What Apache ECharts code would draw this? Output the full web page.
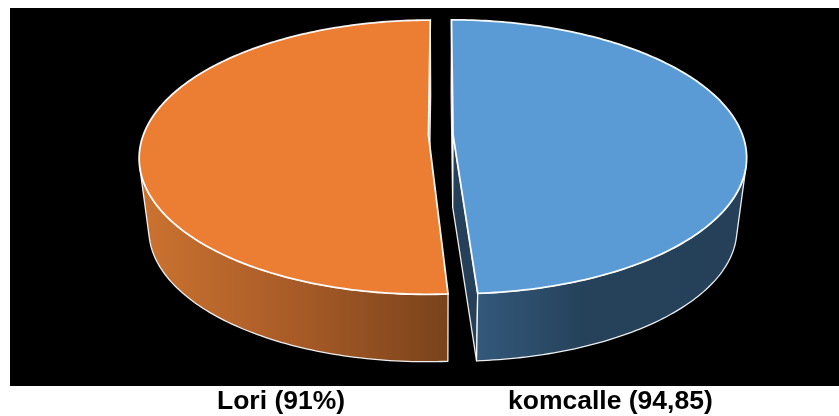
<!DOCTYPE html>
<html><head><meta charset="utf-8">
<style>html,body{margin:0;padding:0;background:#fff}#c{width:839px;height:416px}</style>
<script src="https://cdn.jsdelivr.net/npm/echarts@6/dist/echarts.min.js"></script>
</head><body><div id="c"></div>
<script>
// Data: the blue wedge is the first slice (48.96 %), orange the second.
const sliceNames = ['Lori', 'komcalle'];
const sliceValues = [91, 94.85];
const legendLabels = ['Lori (91%)', 'komcalle (94,85)'];
const topColors = ['#5B9BD5', '#EC7E33'];

const chart = echarts.init(document.getElementById('c'), null, {renderer: 'canvas'});
const total = sliceValues.reduce((a, b) => a + b, 0);

// camera model of the 3D pie
const cx = 441.5, cy = 135, A = 289.5, B = 133.5, k = 0.1606;
const explode = [0.04, 0.045], widthScale = [1, 0.985];
const vpX = 442, vpY = 2400, depthScale = 0.968;
const project = (u, v) => { const w = 1 - k * v; return [cx + A * u / w, cy + B * v / w]; };
const drop = p => [vpX + depthScale * (p[0] - vpX), vpY + depthScale * (p[1] - vpY)];
const area = pts => { let s = 0; pts.forEach((p, i) => { const q = pts[(i + 1) % pts.length]; s += p[0] * q[1] - q[0] * p[1]; }); return s / 2; };

const wallGrad = [
  new echarts.graphic.LinearGradient(478, 0, 740, 0, [
    {offset: 0, color: '#33587A'}, {offset: 0.4, color: '#26425B'}, {offset: 1, color: '#254058'}], true),
  new echarts.graphic.LinearGradient(145, 0, 447, 0, [
    {offset: 0, color: '#CA7230'}, {offset: 0.5, color: '#A85B27'}, {offset: 1, color: '#7A431B'}], true)
];
const faceFill = ['#254058', '#7A431B'];

function renderSlice(params) {
  const i = params.dataIndex;
  let start = 0;
  for (let j = 0; j < i; j++) start += sliceValues[j];
  const t0 = start / total * 2 * Math.PI, t1 = (start + sliceValues[i]) / total * 2 * Math.PI;
  const mid = (t0 + t1) / 2, e = explode[i], ws = widthScale[i];
  const u0 = e * Math.sin(mid), v0 = -e * Math.cos(mid);
  const N = 180, arc = [];
  for (let n = 0; n <= N; n++) {
    const t = t0 + (t1 - t0) * n / N;
    arc.push(project(u0 + ws * Math.sin(t), v0 - Math.cos(t)));
  }
  const apex = project(u0, v0);
  const bArc = arc.map(drop), bApex = drop(apex);
  const stroke = {stroke: 'rgba(255,255,255,0.92)', lineWidth: 1.3, lineJoin: 'round'};
  const children = [];
  const addFace = (pts, fill) => children.push({type: 'polygon', shape: {points: pts}, style: {fill, ...stroke}});
  // cut faces: only those turned toward the viewer
  const f1 = [arc[0], apex, bApex, bArc[0]];
  const f2 = [apex, arc[N], bArc[N], bApex];
  if (area(f1) > 0) addFace(f1, faceFill[i]);
  if (area(f2) > 0) addFace(f2, faceFill[i]);
  // curved wall: only front-facing run of the rim
  let a = -1, b = -1;
  for (let n = 0; n < N; n++) {
    const q = [arc[n], arc[n + 1], bArc[n + 1], bArc[n]];
    if (area(q) < 0) { if (a < 0) a = n; b = n + 1; }
  }
  if (a >= 0) {
    const wall = arc.slice(a, b + 1).concat(bArc.slice(a, b + 1).reverse());
    addFace(wall, wallGrad[i]);
  }
  // top surface
  children.push({type: 'polygon', shape: {points: [apex].concat(arc)},
    style: {fill: topColors[i], stroke: 'rgba(255,255,255,0.95)', lineWidth: 1.8, lineJoin: 'miter'}});
  return {type: 'group', children};
}

chart.setOption({
  animation: false,
  backgroundColor: '#fff',
  graphic: [
    {type: 'rect', z: 0, shape: {x: 10, y: 8, width: 829, height: 378}, style: {fill: '#000'}},
    {type: 'text', z: 5, x: 217, y: 388.5, style: {text: legendLabels[0], font: 'bold 26.5px "Liberation Sans", Arial, sans-serif', fill: '#000'}},
    {type: 'text', z: 5, x: 508, y: 388.5, style: {text: legendLabels[1], font: 'bold 26.5px "Liberation Sans", Arial, sans-serif', fill: '#000'}}
  ],
  series: [{
    type: 'custom',
    coordinateSystem: 'none',
    z: 2,
    silent: true,
    data: sliceNames.map((n, i) => ({name: n, value: sliceValues[i]})),
    renderItem: renderSlice
  }]
});
</script></body></html>
